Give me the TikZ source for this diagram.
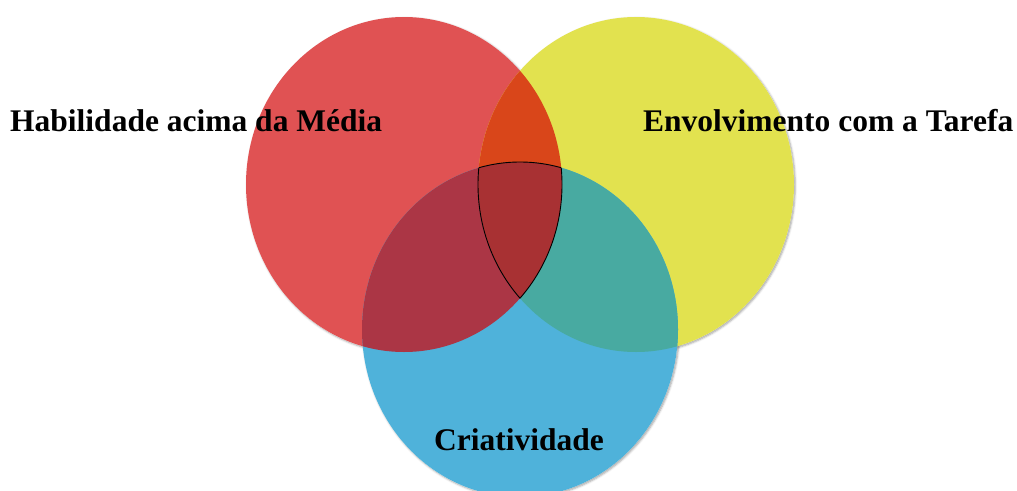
\documentclass[tikz,border=0pt]{standalone}
\usepackage{fontspec}
\setmainfont{Liberation Serif}
\usepackage{tikz}
\usetikzlibrary{positioning, shadows.blur}

\definecolor{habred}{HTML}{E05253}
\definecolor{envyellow}{HTML}{E2E24F}
\definecolor{criblue}{HTML}{4FB2DA}
\definecolor{redyellow}{HTML}{D9461A}
\definecolor{redblue}{HTML}{AB3645}
\definecolor{yellowblue}{HTML}{48AAA1}
\definecolor{allthree}{HTML}{A83133}

\tikzset{
  setlabel/.style={font=\fontsize{31.5}{34}\selectfont\bfseries, text=black, inner sep=0pt, anchor=base west},
  lensline/.style={draw=black, line width=0.9pt},
  setshadow/.style={blur shadow={shadow xshift=1.2pt, shadow yshift=-1.2pt, shadow opacity=35, shadow blur radius=2pt}}
}

\def\habil{(404,184.5) ellipse [x radius=158, y radius=167.5]}
\def\envol{(636,184.5) ellipse [x radius=158, y radius=167.5]}
\def\criat{(520,329.5) ellipse [x radius=158, y radius=167.5]}

\begin{document}
\begin{tikzpicture}[x=1pt, y=-1pt]
    \useasboundingbox (0,0) rectangle (1017,490);
    % =============== the three sets ====================
    \path[setshadow, fill=white] \habil;%shadows first
    \path[setshadow, fill=white] \envol;
    \path[setshadow, fill=white] \criat;
    \fill[habred] \habil;%red set
    \fill[envyellow] \envol;%yellow set
    \fill[criblue] \criat;%blue set
    % =============== overlaps ====================
    \begin{scope}
      \clip \habil;
      \fill[redyellow] \envol;%red and yellow
      \fill[redblue] \criat;%red and blue
    \end{scope}
    \begin{scope}
      \clip \envol;
      \fill[yellowblue] \criat;%yellow and blue
    \end{scope}
    \begin{scope}
      \clip \habil;
      \clip \envol;
      \fill[allthree] \criat;%middle piece
    \end{scope}
    % middle piece outline, one arc at a time
    \begin{scope}
      \clip \habil; \clip \envol;
      \draw[lensline] \criat;%top arc
    \end{scope}
    \begin{scope}
      \clip \habil; \clip \criat;
      \draw[lensline] \envol;%left arc
    \end{scope}
    \begin{scope}
      \clip \envol; \clip \criat;
      \draw[lensline] \habil;%right arc
    \end{scope}
    % =============== labels ====================
    \node (hab) [setlabel] at (10,131) {Habilidade acima da Média};%red label
    \node (env) [setlabel] at (643,131) {Envolvimento com a Tarefa};%yellow label
    \node (cri) [setlabel] at (434,450) {Criatividade};%blue label
\end{tikzpicture}
\end{document}
